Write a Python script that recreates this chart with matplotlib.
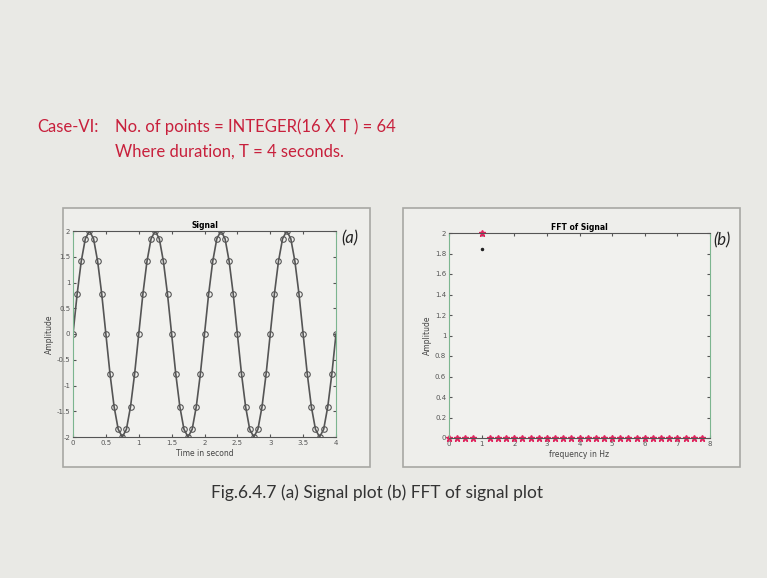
import matplotlib
matplotlib.use('Agg')
from matplotlib import pyplot as plt
from matplotlib.patches import Rectangle

# signal samples, 16 points per second over 4 s
t = [i / 16 for i in range(65)]
one_cycle = [0, 0.77, 1.41, 1.85, 2, 1.85, 1.41, 0.77,
             0, -0.77, -1.41, -1.85, -2, -1.85, -1.41, -0.77]
signal = one_cycle * 4 + [0]

# FFT amplitude, 0.25 Hz resolution
freq = [i / 4 for i in range(32)]
fft_amp = [0, 0, 0, 0, 2] + [0] * 27
extra_f = [1]
extra_amp = [1.84]

red = '#c8203c'
bg = '#e9e9e5'

fig = plt.figure(figsize=(7.67, 5.78), dpi=100, facecolor=bg)

# slide text
fig.text(37 / 767, 1 - 127 / 578, 'Case-VI:', color=red, fontsize=12,
         family='Lato', va='center')
fig.text(115 / 767, 1 - 127 / 578, 'No. of points = INTEGER(16 X T ) = 64',
         color=red, fontsize=12, family='Lato', va='center')
fig.text(115 / 767, 1 - 152 / 578, 'Where duration, T = 4 seconds.',
         color=red, fontsize=12, family='Lato', va='center')
fig.text(377 / 767, 1 - 493 / 578, 'Fig.6.4.7 (a) Signal plot (b) FFT of signal plot',
         color='#333333', fontsize=12.5, family='Lato', va='center', ha='center')

# panel frames
for x0, x1 in [(63, 370), (403, 740)]:
    fig.patches.append(Rectangle((x0 / 767, 1 - 467 / 578), (x1 - x0) / 767, 259 / 578,
                                 transform=fig.transFigure, facecolor='#eeeeeb',
                                 edgecolor='#a8a8a4', linewidth=1.2, zorder=-5))

# (a) signal
ax1 = fig.add_axes([73 / 767, 1 - 437 / 578, 263 / 767, 206 / 578])
ax1.set_facecolor('#f1f1ee')
ax1.plot(t, signal, color='#555555', linewidth=1.2, marker='o', markersize=4,
         markerfacecolor='none', markeredgecolor='#555555', markeredgewidth=0.8)
ax1.set_xlim(0, 4)
ax1.set_ylim(-2, 2)
ax1.set_xticks([0, 0.5, 1, 1.5, 2, 2.5, 3, 3.5, 4])
ax1.set_xticklabels(['0', '0.5', '1', '1.5', '2', '2.5', '3', '3.5', '4'])
ax1.set_yticks([-2, -1.5, -1, -0.5, 0, 0.5, 1, 1.5, 2])
ax1.set_yticklabels(['-2', '-1.5', '-1', '-0.5', '0', '0.5', '1', '1.5', '2'])
ax1.set_title('Signal', fontsize=5.5, fontweight='bold', pad=2)
ax1.set_xlabel('Time in second', fontsize=5.5, labelpad=2, color='#444444')
ax1.set_ylabel('Amplitude', fontsize=5.5, labelpad=2, color='#444444')
ax1.tick_params(labelsize=5, length=2, pad=2, colors='#555555', top=True, right=True,
                direction='in')
for s in ['top', 'bottom']:
    ax1.spines[s].set_color('#555555')
for s in ['left', 'right']:
    ax1.spines[s].set_color('#7cb58f')
fig.text(350 / 767, 1 - 238 / 578, '(a)', fontsize=12, style='italic',
         family='Lato', ha='center', va='center', color='#222222')

# (b) FFT
ax2 = fig.add_axes([449 / 767, 1 - 438 / 578, 261 / 767, 205 / 578])
ax2.set_facecolor('#f1f1ee')
ax2.plot(freq, fft_amp, linestyle='none', marker='*', markersize=4.5,
         color='#e0245e', clip_on=False)
ax2.plot(extra_f, extra_amp, linestyle='none', marker='.', markersize=3,
         color='#222222')
ax2.set_xlim(0, 8)
ax2.set_ylim(0, 2)
ax2.set_xticks(range(9))
ax2.set_yticks([0, 0.2, 0.4, 0.6, 0.8, 1, 1.2, 1.4, 1.6, 1.8, 2])
ax2.set_yticklabels(['0', '0.2', '0.4', '0.6', '0.8', '1', '1.2', '1.4', '1.6', '1.8', '2'])
ax2.set_title('FFT of Signal', fontsize=5.5, fontweight='bold', pad=2)
ax2.set_xlabel('frequency in Hz', fontsize=5.5, labelpad=2, color='#444444')
ax2.set_ylabel('Amplitude', fontsize=5.5, labelpad=2, color='#444444')
ax2.tick_params(labelsize=5, length=2, pad=2, colors='#555555', top=True, right=True,
                direction='in')
for s in ['top', 'bottom']:
    ax2.spines[s].set_color('#555555')
for s in ['left', 'right']:
    ax2.spines[s].set_color('#7cb58f')
fig.text(722 / 767, 1 - 240 / 578, '(b)', fontsize=12, style='italic',
         family='Lato', ha='center', va='center', color='#222222')

fig.savefig('out.png', dpi=100, facecolor=bg)
